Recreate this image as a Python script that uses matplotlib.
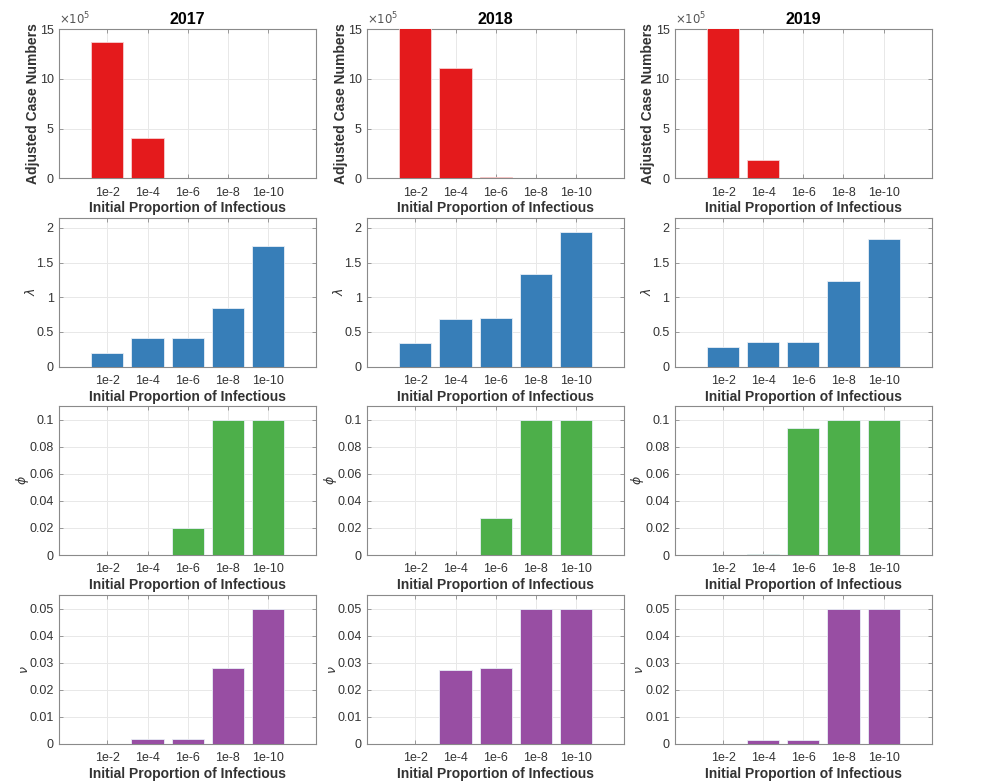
import matplotlib
matplotlib.use("Agg")
import matplotlib.pyplot as plt
from matplotlib.ticker import FuncFormatter
import numpy as np

plt.rcParams['font.family'] = ['Liberation Sans', 'DejaVu Sans']
plt.rcParams['mathtext.fontset'] = 'dejavusans'

years = ['2017', '2018', '2019']
categories = ['1e-2', '1e-4', '1e-6', '1e-8', '1e-10']

cases = {
    '2017': [13.7e5, 4.03e5, 0.05e5, 0.01e5, 0.005e5],
    '2018': [16.0e5, 11.1e5, 0.10e5, 0.03e5, 0.03e5],
    '2019': [16.0e5, 1.81e5, 0.005e5, 0.003e5, 0.003e5],
}
lam = {
    '2017': [0.19, 0.41, 0.41, 0.845, 1.735],
    '2018': [0.34, 0.69, 0.70, 1.33, 1.94],
    '2019': [0.28, 0.355, 0.355, 1.23, 1.84],
}
phi = {
    '2017': [0.0, 0.0003, 0.02, 0.1, 0.1],
    '2018': [0.0, 0.0003, 0.0272, 0.1, 0.1],
    '2019': [0.0, 0.0009, 0.0935, 0.1, 0.1],
}
nu = {
    '2017': [0.0, 0.0019, 0.0019, 0.028, 0.05],
    '2018': [0.0, 0.0274, 0.0279, 0.05, 0.05],
    '2019': [0.0, 0.0015, 0.0015, 0.05, 0.05],
}

rows = [
    (cases, '#e41a1c', 'Adjusted Case Numbers', 15e5, [0, 5e5, 10e5, 15e5]),
    (lam, '#377eb8', r'$\lambda$', 2.15, [0, 0.5, 1, 1.5, 2]),
    (phi, '#4daf4a', r'$\phi$', 0.11, [0, 0.02, 0.04, 0.06, 0.08, 0.1]),
    (nu, '#984ea3', r'$\nu$', 0.055, [0, 0.01, 0.02, 0.03, 0.04, 0.05]),
]

W, H = 986, 784
fig = plt.figure(figsize=(W / 100, H / 100), dpi=100)
col_left = [59.3, 367.3, 675.0]
ax_w = 256.7
row_top = [29.3, 217.5, 406.0, 595.0]
ax_h = 149.0

axis_col = '#8a8a8a'
text_col = '#333333'

gfmt = FuncFormatter(lambda v, p: '{:g}'.format(round(v, 6)))
x = np.arange(1, len(categories) + 1)

for r, (data, color, ylab, ytop, yticks) in enumerate(rows):
    for c, yr in enumerate(years):
        ax = fig.add_axes([col_left[c] / W, 1 - (row_top[r] + ax_h) / H,
                           ax_w / W, ax_h / H])
        ax.bar(x, data[yr], width=0.8, color=color,
               edgecolor='#f6d0d0' if r == 0 else '#e8eef6',
               linewidth=0.6, zorder=3)
        ax.set_xlim(-0.2, 6.2)
        ax.set_ylim(0, ytop)
        ax.set_xticks(x)
        ax.set_xticklabels(categories)
        ax.set_yticks(yticks)
        if r == 0:
            ax.yaxis.set_major_formatter(FuncFormatter(lambda v, p: '{:g}'.format(v / 1e5)))
            ax.text(0.0, 1.012, r'$\times10^5$', transform=ax.transAxes,
                    fontsize=8.5, color='#555555', ha='left', va='bottom')
            ax.set_title(yr, fontsize=11.5, fontweight='bold', color='black', pad=4)
            ax.set_ylabel(ylab, fontsize=10, fontweight='bold', color=text_col, labelpad=0)
        else:
            ax.yaxis.set_major_formatter(gfmt)
            ax.set_ylabel(ylab, fontsize=9, color=text_col, labelpad=-1)
        ax.set_xlabel('Initial Proportion of Infectious', fontsize=10, fontweight='bold',
                      color=text_col, labelpad=2)
        ax.grid(True, color='#e8e8e8', linewidth=0.7, zorder=0)
        ax.set_axisbelow(True)
        ax.tick_params(axis='x', pad=6)
        ax.tick_params(axis='y', pad=4)
        ax.tick_params(direction='in', length=3, width=0.6, colors=axis_col,
                       labelcolor=text_col, labelsize=9, top=True, right=True)
        for s in ax.spines.values():
            s.set_color(axis_col)
            s.set_linewidth(0.8)

fig.savefig('out.png', dpi=100)
